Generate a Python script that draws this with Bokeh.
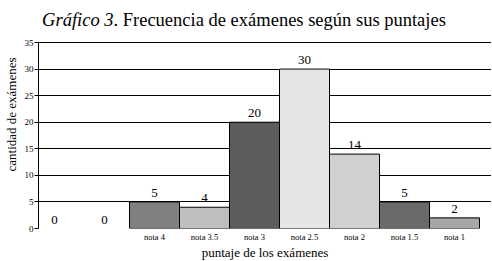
import numpy as np
from bokeh.plotting import figure
from bokeh.models import ColumnDataSource, FixedTicker, Label, LabelSet, Range1d
from bokeh.embed import file_html
from bokeh.resources import INLINE

categories = ["", "", "nota 4", "nota 3.5", "nota 3", "nota 2.5", "nota 2", "nota 1.5", "nota 1"]
counts = [0, 0, 5, 4, 20, 30, 14, 5, 2]
bar_colors = ["#ffffff", "#ffffff", "#808080", "#bebebe", "#5c5c5d",
              "#e6e6e7", "#d0d0d1", "#6a6a6b", "#a7a7a8"]
y_ticks = [0, 5, 10, 15, 20, 25, 30, 35]
title_italic = "Gráfico 3"
title_rest = ". Frecuencia de exámenes según sus puntajes"
x_title = "puntaje de los exámenes"
y_title = "cantidad de exámenes"

FONT = "Liberation Serif"

xs = np.arange(len(categories)) + 0.5
labels_txt = [str(c) for c in counts]

src_all = ColumnDataSource(dict(x=xs, top=counts, lab=labels_txt))
mask = [c > 0 for c in counts]
src_bars = ColumnDataSource(dict(
    x=[x for x, m in zip(xs, mask) if m],
    top=[c for c, m in zip(counts, mask) if m],
    color=[c for c, m in zip(bar_colors, mask) if m],
))

# frame extends above the axis top so the title (drawn as labels) is not clipped
FRAME_H = 228
Y_TOP = y_ticks[-1] * FRAME_H / 186.0

p = figure(frame_width=453, frame_height=FRAME_H, output_backend="svg", toolbar_location=None,
           x_range=Range1d(0.18, 9.24), y_range=Range1d(0, Y_TOP),
           min_border_left=37, min_border_right=0, min_border_top=0, min_border_bottom=20)
p.outline_line_color = None
p.background_fill_color = "white"
p.border_fill_color = "white"

p.vbar(x="x", top="top", bottom=0, width=1.0, source=src_bars,
       fill_color="color", line_color="black", line_width=1)

p.add_layout(LabelSet(x="x", y="top", text="lab", source=src_all,
                      text_align="center", text_baseline="bottom", y_offset=5,
                      text_font=FONT, text_font_size="13px", text_color="black"))

# grids
p.xgrid.visible = False
p.ygrid.ticker = FixedTicker(ticks=y_ticks)
p.ygrid.grid_line_color = "black"
p.ygrid.grid_line_width = 1

# y axis
p.yaxis.ticker = FixedTicker(ticks=y_ticks)
p.yaxis.bounds = (y_ticks[0], y_ticks[-1])
p.yaxis.major_tick_out = 4
p.yaxis.major_tick_in = 0
p.yaxis.major_tick_line_color = "black"
p.yaxis.minor_tick_line_color = None
p.yaxis.axis_line_color = "black"
p.yaxis.major_label_text_font = FONT
p.yaxis.major_label_text_font_size = "9px"
p.yaxis.major_label_text_color = "black"
p.yaxis.major_label_standoff = 1
p.yaxis.axis_label = y_title
p.yaxis.axis_label_text_font = FONT
p.yaxis.axis_label_text_font_size = "13px"
p.yaxis.axis_label_text_font_style = "normal"
p.yaxis.axis_label_text_color = "black"
p.yaxis.axis_label_standoff = 3

# x axis
p.xaxis.ticker = FixedTicker(ticks=list(xs))
p.xaxis.major_label_overrides = {float(x): c for x, c in zip(xs, categories)}
p.xaxis.axis_line_color = None
p.xaxis.major_tick_line_color = None
p.xaxis.major_tick_out = 0
p.xaxis.major_tick_in = 0
p.xaxis.minor_tick_line_color = None
p.xaxis.major_label_text_font = FONT
p.xaxis.major_label_text_font_size = "8.5px"
p.xaxis.major_label_text_color = "black"
p.xaxis.major_label_standoff = 3
p.xaxis.axis_label = x_title
p.xaxis.axis_label_text_font = FONT
p.xaxis.axis_label_text_font_size = "13px"
p.xaxis.axis_label_text_font_style = "normal"
p.xaxis.axis_label_text_color = "black"
p.xaxis.axis_label_standoff = 0

# title in two parts (italic + normal), inside the frame above the plot area
p.add_layout(Label(x=75, y=FRAME_H - 19, x_units="screen", y_units="screen", text=title_italic,
                   text_align="right", text_baseline="alphabetic",
                   text_font=FONT, text_font_size="18.5px", text_font_style="italic",
                   text_color="black"))
p.add_layout(Label(x=75, y=FRAME_H - 19, x_units="screen", y_units="screen", text=title_rest,
                   text_align="left", text_baseline="alphabetic",
                   text_font=FONT, text_font_size="18.5px", text_color="black"))

open("out.html", "w").write(file_html(p, INLINE))
